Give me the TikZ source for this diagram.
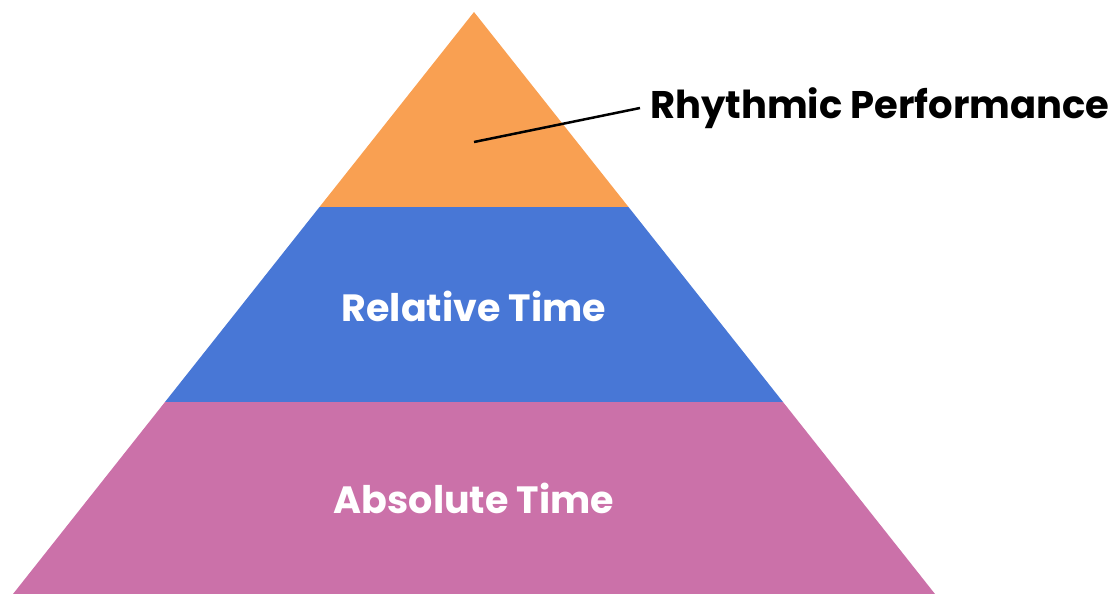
\documentclass[tikz,border=0pt]{standalone}
\usepackage{fontspec}
\setmainfont{Poppins}
\usetikzlibrary{positioning}
\definecolor{tiertop}{RGB}{249,160,82}
\definecolor{tiermid}{RGB}{72,119,214}
\definecolor{tierlow}{RGB}{203,113,169}
\tikzset{
  tierlabel/.style={text=white,font=\bfseries\fontsize{38}{38}\selectfont},
  sidelabel/.style={text=black,font=\bfseries\fontsize{38.5}{38.5}\selectfont,inner sep=0pt}
}

\begin{document}
\begin{tikzpicture}[x=1pt,y=-1pt]
\useasboundingbox (0,0) rectangle (1119,594);
% pyramid tiers
\fill[tiertop] (474,12) -- (628.5,207) -- (319.5,207) -- cycle;
\fill[tiermid] (319.5,207) -- (628.5,207) -- (783,402) -- (165,402) -- cycle;
\fill[tierlow] (165,402) -- (783,402) -- (935,594) -- (13,594) -- cycle;
% labels
\node[tierlabel] (rel) at (474,306) {Relative Time};
\node[tierlabel] (abs) at (474,498) {Absolute Time};
\coordinate (tip) at (474,142);
\coordinate (knee) at (640,108);
\node[sidelabel,right=10pt of knee] (perf) {Rhythmic Performance};
\draw[line width=2.5pt] (tip) -- (knee);
\end{tikzpicture}
\end{document}
